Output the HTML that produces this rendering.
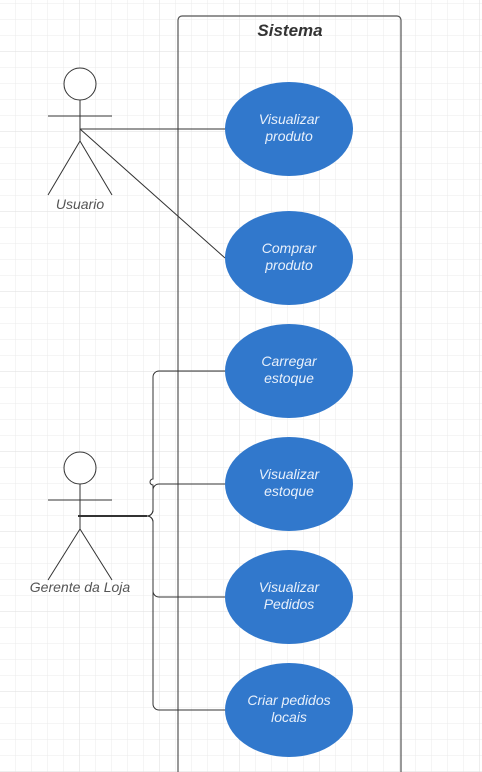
<!DOCTYPE html><html><head><style>
body{margin:0;width:482px;height:772px;overflow:hidden;background:#fff;}
svg{display:block}
text{font-family:"Liberation Sans",sans-serif;font-style:italic}
</style></head><body>
<svg width="482" height="772" viewBox="0 0 482 772">
<defs>
<pattern id="g" width="16" height="16" patternUnits="userSpaceOnUse" y="4"><path d="M16 0V16M0 16H16" fill="none" stroke="#ebebeb" stroke-width="1"/></pattern>
<pattern id="G" width="80" height="80" patternUnits="userSpaceOnUse" y="52"><path d="M80 0V80M0 80H80" fill="none" stroke="#dedede" stroke-width="1"/></pattern>
</defs>
<rect width="482" height="772" fill="url(#g)"/>
<rect width="482" height="772" fill="url(#G)"/>
<path d="M178 790V20a4 4 0 0 1 4-4H397a4 4 0 0 1 4 4V790" fill="none" stroke="#555" stroke-width="1.2"/>
<text x="290" y="36" text-anchor="middle" font-size="17" font-weight="bold" fill="#333">Sistema</text>
<g fill="none" stroke="#333" stroke-width="1">
<circle cx="80" cy="84" r="16" fill="#fff"/>
<path d="M80 100V141M48 116H112M80 141L48 195M80 141L112 195"/>
<path d="M80 129H225M80 129L225 258"/>
<circle cx="80" cy="468" r="16" fill="#fff"/>
<path d="M80 484V529M48 500H112M80 529L48 580M80 529L112 580"/>
<path d="M78 516H147" stroke-width="2"/>
<path d="M147 516a6 6 0 0 0 6-6V485a3 3 0 0 1 0-6V377a6 6 0 0 1 6-6H225"/>
<path d="M147 516a6 6 0 0 0 6-6V490a6 6 0 0 1 6-6H225"/>
<path d="M147 516a6 6 0 0 1 6 6V591a6 6 0 0 0 6 6H225"/>
<path d="M147 516a6 6 0 0 1 6 6V704a6 6 0 0 0 6 6H225"/>
</g>
<text x="80" y="209" text-anchor="middle" font-size="14" fill="#555">Usuario</text>
<text x="80" y="592" text-anchor="middle" font-size="14" fill="#555">Gerente da Loja</text>
<g fill="#3178cc">
<ellipse cx="289" cy="129" rx="64" ry="47"/>
<ellipse cx="289" cy="258" rx="64" ry="47"/>
<ellipse cx="289" cy="371" rx="64" ry="47"/>
<ellipse cx="289" cy="484" rx="64" ry="47"/>
<ellipse cx="289" cy="597" rx="64" ry="47"/>
<ellipse cx="289" cy="710" rx="64" ry="47"/>
</g>
<g fill="#e8f0fb" font-size="14" text-anchor="middle">
<text x="289" y="124">Visualizar</text><text x="289" y="141">produto</text>
<text x="289" y="253">Comprar</text><text x="289" y="270">produto</text>
<text x="289" y="366">Carregar</text><text x="289" y="383">estoque</text>
<text x="289" y="479">Visualizar</text><text x="289" y="496">estoque</text>
<text x="289" y="592">Visualizar</text><text x="289" y="609">Pedidos</text>
<text x="289" y="705">Criar pedidos</text><text x="289" y="722">locais</text>
</g>
</svg>
</body></html>
